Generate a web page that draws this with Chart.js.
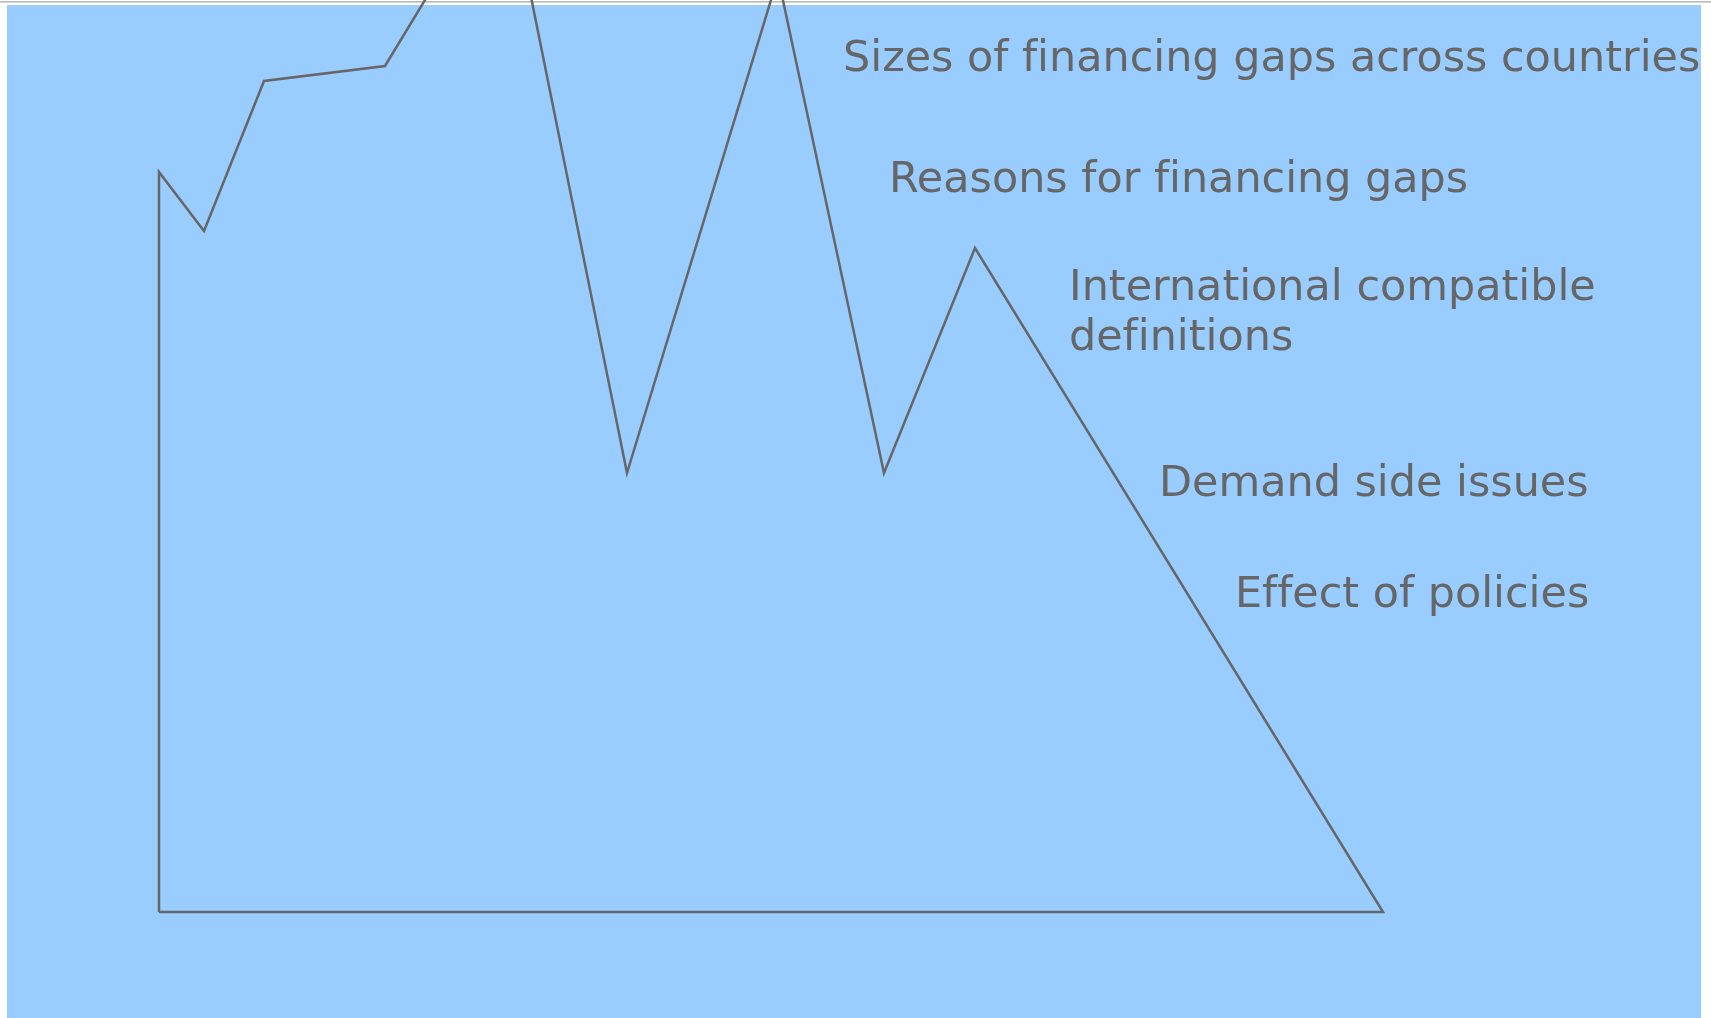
<!DOCTYPE html>
<html>
<head>
<meta charset="utf-8">
<title>Financing gaps</title>
<script src="https://cdn.jsdelivr.net/npm/chart.js@4.4.1/dist/chart.umd.min.js"></script>
<style>
    body { margin: 0; background: #ffffff; }
    #wrap { width: 1711px; height: 1018px; }
</style>
</head>
<body>
<div id="wrap"><canvas id="gapChart" width="1711" height="1018"></canvas></div>
<script>
// Outline of the shape (origin at the bottom-left corner)
const outlineX = [0, 0, 4.5, 10.5, 22.6, 34.6, 46.8, 61.9, 72.5, 81.6, 122.4, 0];
const outlineY = [0, 74.0, 68.1, 83.1, 84.6, 104.4, 43.9, 93.5, 43.9, 66.4, 0, 0];

// Text labels and where they sit (left edge / baseline, same units)
const labelText = [
    ['Sizes of financing gaps across countries'],
    ['Reasons for financing gaps'],
    ['International compatible', 'definitions'],
    ['Demand side issues'],
    ['Effect of policies']
];
const labelX = [68.4, 73.0, 91.0, 100.0, 107.6];
const labelY = [84.1, 72.0, 61.2, 41.6, 30.5];

// Visible window of the axes
const xRange = [-15.9, 155.2];
const yRange = [-10.6, 91.2];

const bgPlugin = {
    id: 'bgPlugin',
    beforeDraw(chart) {
        const ctx = chart.ctx;
        const w = chart.width, h = chart.height;
        ctx.save();
        ctx.fillStyle = '#ffffff';
        ctx.fillRect(0, 0, w, h);
        // thin grey rule along the top
        ctx.fillStyle = '#b9b9b9';
        ctx.fillRect(0, 1, w, 1);
        ctx.fillStyle = '#d4d4d4';
        ctx.fillRect(0, 2, w, 1);
        // blue panel
        ctx.fillStyle = '#99ccff';
        ctx.fillRect(7, 5, w - 17, h - 5);
        ctx.restore();
    }
};

// draw a line of text, splitting after "f" so no fi/ff ligature forms
function drawPlain(ctx, text, x, y) {
    const pieces = text.split(/(?<=f)(?=[fil])/);
    let cx = x;
    pieces.forEach(p => {
        ctx.fillText(p, cx, y);
        cx += ctx.measureText(p).width;
    });
}

const labelPlugin = {
    id: 'labelPlugin',
    afterDatasetsDraw(chart) {
        const ctx = chart.ctx;
        const xs = chart.scales.x, ys = chart.scales.y;
        ctx.save();
        ctx.fillStyle = '#666666';
        ctx.font = '42.9px "DejaVu Sans", Verdana, sans-serif';
        ctx.textAlign = 'left';
        ctx.textBaseline = 'alphabetic';
        labelText.forEach((lines, i) => {
            const px = xs.getPixelForValue(labelX[i]);
            const py = ys.getPixelForValue(labelY[i]);
            lines.forEach((line, j) => {
                drawPlain(ctx, line, px, py + j * 50);
            });
        });
        ctx.restore();
    }
};

const ctx1 = document.getElementById('gapChart');
new Chart(ctx1, {
    type: 'scatter',
    data: {
        datasets: [{
            data: outlineX.map((x, i) => ({ x: x, y: outlineY[i] })),
            showLine: true,
            borderColor: '#666666',
            borderWidth: 2.5,
            borderJoinStyle: 'miter',
            tension: 0,
            pointRadius: 0,
            fill: false
        }]
    },
    options: {
        responsive: false,
        animation: false,
        devicePixelRatio: 1,
        layout: { padding: 0 },
        plugins: {
            legend: { display: false },
            tooltip: { enabled: false }
        },
        scales: {
            x: { type: 'linear', display: false, min: xRange[0], max: xRange[1] },
            y: { type: 'linear', display: false, min: yRange[0], max: yRange[1] }
        }
    },
    plugins: [bgPlugin, labelPlugin]
});
</script>
</body>
</html>
